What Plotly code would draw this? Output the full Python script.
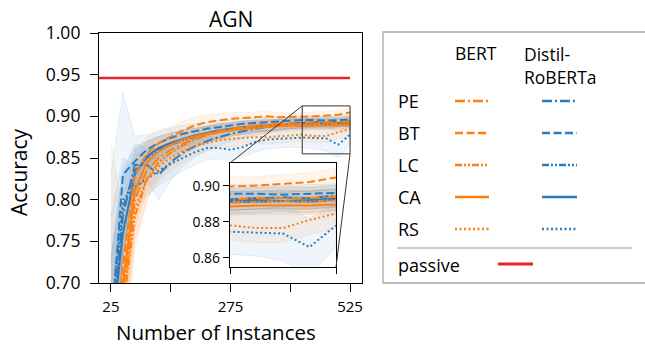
import plotly.graph_objects as go

# ---- data -------------------------------------------------------------
instances = [25, 50, 75, 100, 125, 150, 175, 200, 225, 250, 275,
             300, 325, 350, 375, 400, 425, 450, 475, 500, 525]

# mean accuracy, BERT
bert_pe = [0.590, 0.690, 0.800, 0.835, 0.850, 0.860, 0.867, 0.873, 0.878, 0.882, 0.885,
           0.887, 0.889, 0.890, 0.891, 0.891, 0.892, 0.893, 0.893, 0.893, 0.894]
bert_bt = [0.600, 0.720, 0.830, 0.855, 0.868, 0.876, 0.883, 0.889, 0.893, 0.895, 0.897,
           0.898, 0.899, 0.900, 0.899, 0.899, 0.8995, 0.900, 0.901, 0.902, 0.9045]
bert_lc = [0.580, 0.670, 0.780, 0.825, 0.845, 0.856, 0.865, 0.872, 0.877, 0.881, 0.884,
           0.886, 0.888, 0.889, 0.890, 0.891, 0.8905, 0.891, 0.8915, 0.891, 0.892]
bert_ca = [0.600, 0.700, 0.810, 0.845, 0.858, 0.866, 0.872, 0.876, 0.879, 0.881, 0.883,
           0.885, 0.886, 0.887, 0.888, 0.888, 0.8885, 0.889, 0.889, 0.889, 0.8895]
bert_rs = [0.580, 0.680, 0.790, 0.825, 0.840, 0.850, 0.858, 0.864, 0.868, 0.871, 0.873,
           0.874, 0.875, 0.875, 0.876, 0.877, 0.878, 0.8765, 0.8765, 0.881, 0.8845]

# mean accuracy, DistilRoBERTa
dist_pe = [0.620, 0.780, 0.842, 0.842, 0.830, 0.845, 0.856, 0.864, 0.870, 0.875, 0.879,
           0.882, 0.885, 0.887, 0.889, 0.891, 0.8925, 0.893, 0.8935, 0.893, 0.8945]
dist_bt = [0.640, 0.830, 0.846, 0.860, 0.868, 0.874, 0.879, 0.882, 0.885, 0.887, 0.889,
           0.891, 0.892, 0.893, 0.894, 0.895, 0.8955, 0.8955, 0.895, 0.8955, 0.896]
dist_lc = [0.630, 0.790, 0.835, 0.850, 0.860, 0.866, 0.871, 0.875, 0.879, 0.882, 0.884,
           0.886, 0.888, 0.889, 0.890, 0.891, 0.891, 0.891, 0.8915, 0.891, 0.8925]
dist_ca = [0.630, 0.760, 0.830, 0.852, 0.862, 0.868, 0.873, 0.877, 0.880, 0.883, 0.885,
           0.887, 0.888, 0.889, 0.890, 0.891, 0.892, 0.892, 0.8915, 0.892, 0.893]
dist_rs = [0.660, 0.800, 0.815, 0.825, 0.835, 0.843, 0.850, 0.857, 0.862, 0.862, 0.860,
           0.863, 0.869, 0.872, 0.873, 0.874, 0.8745, 0.874, 0.8735, 0.866, 0.878]

# half-width of the shaded spread around each mean
sp_bert_pe = [0.08, 0.06, 0.035, 0.025, 0.018, 0.015, 0.013, 0.011, 0.010, 0.009, 0.008,
              0.008, 0.007, 0.007, 0.006, 0.006, 0.006, 0.006, 0.006, 0.006, 0.006]
sp_bert_bt = [0.10, 0.07, 0.030, 0.020, 0.015, 0.012, 0.011, 0.010, 0.009, 0.008, 0.007,
              0.007, 0.006, 0.006, 0.005, 0.005, 0.005, 0.005, 0.005, 0.005, 0.005]
sp_bert_lc = [0.09, 0.07, 0.040, 0.025, 0.018, 0.015, 0.013, 0.011, 0.010, 0.009, 0.008,
              0.008, 0.007, 0.007, 0.006, 0.006, 0.006, 0.006, 0.006, 0.006, 0.006]
sp_bert_ca = [0.27, 0.08, 0.040, 0.025, 0.017, 0.014, 0.012, 0.010, 0.009, 0.008, 0.007,
              0.007, 0.006, 0.006, 0.006, 0.006, 0.005, 0.005, 0.005, 0.005, 0.005]
sp_bert_rs = [0.09, 0.08, 0.040, 0.025, 0.018, 0.015, 0.013, 0.011, 0.010, 0.009, 0.009,
              0.009, 0.008, 0.008, 0.008, 0.008, 0.008, 0.008, 0.008, 0.008, 0.008]
sp_dist_pe = [0.10, 0.05, 0.025, 0.020, 0.030, 0.022, 0.016, 0.013, 0.011, 0.010, 0.009,
              0.008, 0.008, 0.007, 0.007, 0.006, 0.006, 0.006, 0.006, 0.006, 0.006]
sp_dist_bt = [0.19, 0.098, 0.030, 0.018, 0.014, 0.012, 0.010, 0.009, 0.008, 0.008, 0.007,
              0.007, 0.006, 0.006, 0.006, 0.005, 0.005, 0.005, 0.005, 0.005, 0.005]
sp_dist_lc = [0.10, 0.05, 0.028, 0.020, 0.016, 0.014, 0.012, 0.010, 0.009, 0.009, 0.008,
              0.008, 0.007, 0.007, 0.006, 0.006, 0.006, 0.006, 0.006, 0.006, 0.006]
sp_dist_ca = [0.10, 0.06, 0.028, 0.018, 0.014, 0.012, 0.010, 0.009, 0.008, 0.008, 0.007,
              0.007, 0.006, 0.006, 0.006, 0.005, 0.005, 0.005, 0.005, 0.005, 0.005]
sp_dist_rs = [0.12, 0.05, 0.025, 0.020, 0.018, 0.017, 0.016, 0.015, 0.014, 0.013, 0.013,
              0.012, 0.012, 0.011, 0.011, 0.011, 0.012, 0.013, 0.015, 0.016, 0.012]

passive_acc = 0.946

strategies = ["PE", "BT", "LC", "CA", "RS"]
models = ["BERT", "Distil-<br>RoBERTa"]

# ---- styling ----------------------------------------------------------
FONT = "Open Sans"
ORANGE = "#ff7f0e"
BLUE = "#2f7cbd"
RED = "#e4262c"
DASH = {
    "PE": "10px,3px,2px,3px",
    "BT": "8px,3.5px",
    "LC": "7px,2px,2px,2px,2px,2px",
    "CA": "solid",
    "RS": "2px,2.5px",
}

W, H = 645, 346


def px(x):
    return x / W


def py(y):
    return 1 - y / H


main_x_dom = [px(99), px(362)]
main_y_dom = [py(283), py(33)]
ins_x_dom = [px(230), px(336)]
ins_y_dom = [py(267), py(163)]
main_x_rng = [0, 550]
main_y_rng = [0.70, 1.00]
ins_x_rng = [425, 525]
ins_y_rng = [0.855, 0.9125]


def rgba(hex_color, a):
    h = hex_color.lstrip("#")
    r, g, b = int(h[0:2], 16), int(h[2:4], 16), int(h[4:6], 16)
    return f"rgba({r},{g},{b},{a})"


series = [
    ("BERT", ORANGE, "PE", bert_pe, sp_bert_pe),
    ("BERT", ORANGE, "BT", bert_bt, sp_bert_bt),
    ("BERT", ORANGE, "LC", bert_lc, sp_bert_lc),
    ("BERT", ORANGE, "CA", bert_ca, sp_bert_ca),
    ("BERT", ORANGE, "RS", bert_rs, sp_bert_rs),
    ("DistilRoBERTa", BLUE, "PE", dist_pe, sp_dist_pe),
    ("DistilRoBERTa", BLUE, "BT", dist_bt, sp_dist_bt),
    ("DistilRoBERTa", BLUE, "LC", dist_lc, sp_dist_lc),
    ("DistilRoBERTa", BLUE, "CA", dist_ca, sp_dist_ca),
    ("DistilRoBERTa", BLUE, "RS", dist_rs, sp_dist_rs),
]

fig = go.Figure()

for xa, ya in (("x", "y"), ("x2", "y2")):
    # spread bands
    for model, color, strat, mean, sp in series:
        upper = [m + s for m, s in zip(mean, sp)]
        lower = [m - s for m, s in zip(mean, sp)]
        fig.add_trace(go.Scatter(
            x=instances + instances[::-1], y=upper + lower[::-1],
            fill="toself", fillcolor=rgba(color, 0.08),
            line=dict(color=rgba(color, 0.14), width=0.8),
            mode="lines", hoverinfo="skip", showlegend=False,
            xaxis=xa, yaxis=ya))
    # mean curves (blue first, orange on top)
    for model, color, strat, mean, sp in series[5:] + series[:5]:
        fig.add_trace(go.Scatter(
            x=instances, y=mean, mode="lines",
            line=dict(color=color, width=2, dash=DASH[strat]),
            name=f"{model} {strat}", showlegend=False,
            xaxis=xa, yaxis=ya))

# passive baseline
fig.add_trace(go.Scatter(
    x=[0, instances[-1]], y=[passive_acc, passive_acc], mode="lines",
    line=dict(color=RED, width=2.6), name="passive", showlegend=False,
    xaxis="x", yaxis="y"))

axis_common = dict(showline=True, linecolor="black", linewidth=1.2, mirror=True,
                   ticks="outside", tickcolor="black", showgrid=False, zeroline=False,
                   automargin=False)

fig.update_layout(
    width=W, height=H,
    margin=dict(l=0, r=0, t=0, b=0, pad=0, autoexpand=False),
    paper_bgcolor="white", plot_bgcolor="white",
    font=dict(family=FONT, color="black"),
    xaxis=dict(domain=main_x_dom, range=main_x_rng, tickvals=[25, 150, 275, 400, 525],
               ticktext=["25", "", "275", "", "525"], ticklen=8, tickwidth=1.2,
               ticklabelstandoff=2, tickfont=dict(size=15), anchor="y", **axis_common),
    yaxis=dict(domain=main_y_dom, range=main_y_rng, dtick=0.05, tickformat=".2f",
               ticklen=8, tickwidth=1.2, ticklabelstandoff=6, tickfont=dict(size=17.5),
               anchor="x", **axis_common),
    xaxis2=dict(domain=ins_x_dom, range=ins_x_rng, tickvals=[425, 525],
                showticklabels=False, ticklen=6, tickwidth=1.2, anchor="y2", **axis_common),
    yaxis2=dict(domain=ins_y_dom, range=ins_y_rng, tickvals=[0.86, 0.88, 0.90],
                tickformat=".2f", ticklen=6, tickwidth=1.2, tickfont=dict(size=14),
                anchor="x2", **axis_common),
)


def to_paper(xv, yv):
    fx = (xv - main_x_rng[0]) / (main_x_rng[1] - main_x_rng[0])
    fy = (yv - main_y_rng[0]) / (main_y_rng[1] - main_y_rng[0])
    return (main_x_dom[0] + fx * (main_x_dom[1] - main_x_dom[0]),
            main_y_dom[0] + fy * (main_y_dom[1] - main_y_dom[0]))


shapes = []
# zoom window on the main axes
shapes.append(dict(type="rect", xref="x", yref="y", x0=ins_x_rng[0], x1=ins_x_rng[1],
                   y0=ins_y_rng[0], y1=ins_y_rng[1], line=dict(color="#333333", width=1),
                   layer="above"))
# connectors to the inset
tl = to_paper(ins_x_rng[0], ins_y_rng[1])
br = to_paper(ins_x_rng[1], ins_y_rng[0])
shapes.append(dict(type="line", xref="paper", yref="paper", x0=tl[0], y0=tl[1],
                   x1=ins_x_dom[0], y1=ins_y_dom[1], line=dict(color="#333333", width=1),
                   layer="above"))
shapes.append(dict(type="line", xref="paper", yref="paper", x0=br[0], y0=br[1],
                   x1=ins_x_dom[1], y1=ins_y_dom[0], line=dict(color="#333333", width=1),
                   layer="above"))

# legend frame
shapes.append(dict(type="rect", xref="paper", yref="paper", x0=px(383), x1=px(660),
                   y0=py(283), y1=py(32), line=dict(color="#a8a8a8", width=1.3)))
shapes.append(dict(type="line", xref="paper", yref="paper", x0=px(397), x1=px(632),
                   y0=py(248), y1=py(248), line=dict(color="#9a9a9a", width=1)))

annotations = []
row_y = [101, 133, 165, 197, 229]
for strat, yy in zip(strategies, row_y):
    annotations.append(dict(text=strat, x=px(396), y=py(yy), xref="paper", yref="paper",
                            xanchor="left", yanchor="middle", showarrow=False,
                            font=dict(size=18)))
    for (x0, x1), color in (((455, 489), ORANGE), ((542, 577), BLUE)):
        shapes.append(dict(type="line", xref="paper", yref="paper", x0=px(x0), x1=px(x1),
                           y0=py(yy), y1=py(yy),
                           line=dict(color=color, width=2.6, dash=DASH[strat])))

annotations.append(dict(text=models[0], x=px(476), y=py(53), xref="paper", yref="paper",
                        xanchor="center", yanchor="middle", showarrow=False,
                        font=dict(size=17.5)))
annotations.append(dict(text=models[1], x=px(522), y=py(66), xref="paper", yref="paper",
                        xanchor="left", yanchor="middle", align="left", showarrow=False,
                        font=dict(size=17.5)))
annotations.append(dict(text="passive", x=px(396), y=py(265), xref="paper", yref="paper",
                        xanchor="left", yanchor="middle", showarrow=False,
                        font=dict(size=18)))
shapes.append(dict(type="line", xref="paper", yref="paper", x0=px(498), x1=px(533),
                   y0=py(264), y1=py(264), line=dict(color=RED, width=2.8)))

# titles
annotations.append(dict(text="AGN", x=(main_x_dom[0] + main_x_dom[1]) / 2, y=py(19),
                        xref="paper", yref="paper", xanchor="center", yanchor="middle",
                        showarrow=False, font=dict(size=21)))
annotations.append(dict(text="Accuracy", x=px(19), y=py(172), xref="paper", yref="paper",
                        xanchor="center", yanchor="middle", textangle=-90,
                        showarrow=False, font=dict(size=21)))
annotations.append(dict(text="Number of Instances", x=px(216), y=py(332), xref="paper",
                        yref="paper", xanchor="center", yanchor="middle",
                        showarrow=False, font=dict(size=20.5)))

fig.update_layout(shapes=shapes, annotations=annotations)
fig.write_html("out.html")
